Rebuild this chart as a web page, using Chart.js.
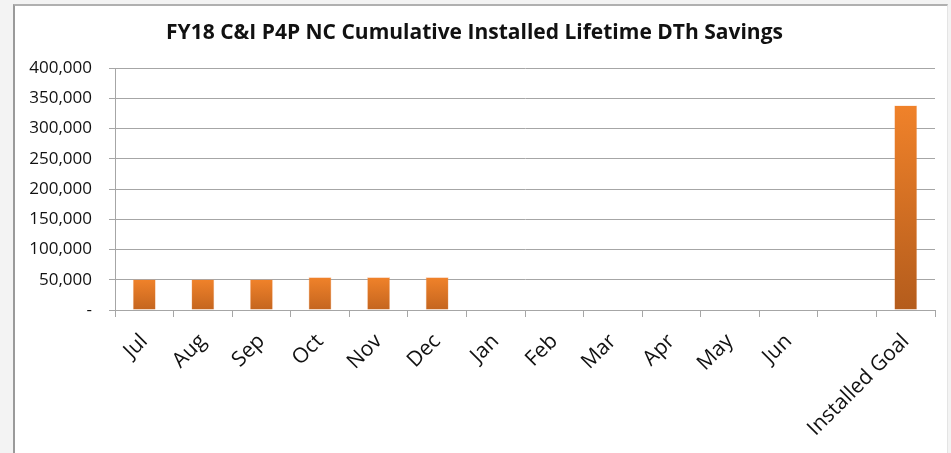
<!DOCTYPE html>
<html><head><meta charset="utf-8">
<script src="https://cdn.jsdelivr.net/npm/chart.js@4/dist/chart.umd.min.js"></script>
<style>
html,body{margin:0;padding:0;width:951px;height:453px;overflow:hidden;background:#f3f3f3;}
#frame{position:absolute;left:13px;top:4px;width:932px;height:460px;background:#fff;border-left:2px solid #9a9a9a;border-top:2px solid #b0b0b0;border-right:1px solid #e4e4e4;}
#wrap{position:absolute;left:0;top:0;width:951px;height:453px;}
</style></head>
<body>
<div id="frame"></div>
<div id="wrap"><canvas id="c" width="951" height="453"></canvas></div>
<script>
const categories = ['Jul','Aug','Sep','Oct','Nov','Dec','Jan','Feb','Mar','Apr','May','Jun','','Installed Goal'];
const savings = [50500, 50500, 50500, 54000, 54000, 54000, null, null, null, null, null, null, null, 338500];
const yTicks = [0, 50000, 100000, 150000, 200000, 250000, 300000, 350000, 400000];
const chartTitle = 'FY18 C&I P4P NC Cumulative Installed Lifetime DTh Savings';

const FONT = 'Open Sans, Liberation Sans, sans-serif';

function barGradient(ctx){
  const chart = ctx.chart;
  const v = ctx.raw;
  if (v == null || !chart.chartArea) return '#e57a2b';
  const ys = chart.scales.y;
  const top = ys.getPixelForValue(v), bot = ys.getPixelForValue(0);
  const g = chart.ctx.createLinearGradient(0, top, 0, bot);
  const t = (v / 400000);
  g.addColorStop(0, '#f0822a');
  g.addColorStop(1, t > 0.5 ? '#b45c1c' : '#c4651f');
  return g;
}

new Chart(document.getElementById('c'), {
  type: 'bar',
  data: {
    labels: categories,
    datasets: [{
      data: savings,
      backgroundColor: barGradient,
      borderColor: 'rgba(240,150,90,0.6)',
      borderWidth: 0.6,
      barPercentage: 0.39,
      categoryPercentage: 1.0
    }]
  },
  options: {
    responsive: false,
    animation: false,
    devicePixelRatio: 1,
    layout: { padding: { left: 14, right: 16, top: 0, bottom: 0 } },
    plugins: {
      legend: { display: false },
      tooltip: { enabled: false },
      title: {
        display: true,
        text: chartTitle,
        color: '#111',
        font: { family: FONT, size: 21, weight: 'bold', lineHeight: 1.2 },
        padding: { top: 20, bottom: 23 }
      }
    },
    scales: {
      x: {
        grid: { display: true, drawOnChartArea: false, drawTicks: true, tickLength: 7, color: '#a6a6a6', offset: true },
        border: { display: true, color: '#a6a6a6', width: 1 },
        ticks: {
          color: '#111', font: { family: FONT, size: 21 },
          minRotation: 45, maxRotation: 45, autoSkip: false, padding: 12
        },
        afterFit: s => { s.height = 143; }
      },
      y: {
        min: 0, max: 400000,
        afterBuildTicks: s => { s.ticks = yTicks.map(v => ({ value: v })); },
        grid: { color: '#a6a6a6', tickLength: 6, lineWidth: 1 },
        border: { display: true, color: '#a6a6a6', width: 1 },
        ticks: {
          color: '#111', font: { family: FONT, size: 17 }, padding: 17,
          callback: v => v === 0 ? '-' : v.toLocaleString('en-US')
        },
        afterFit: s => { s.width = 101; }
      }
    }
  }
});
</script>
</body></html>
